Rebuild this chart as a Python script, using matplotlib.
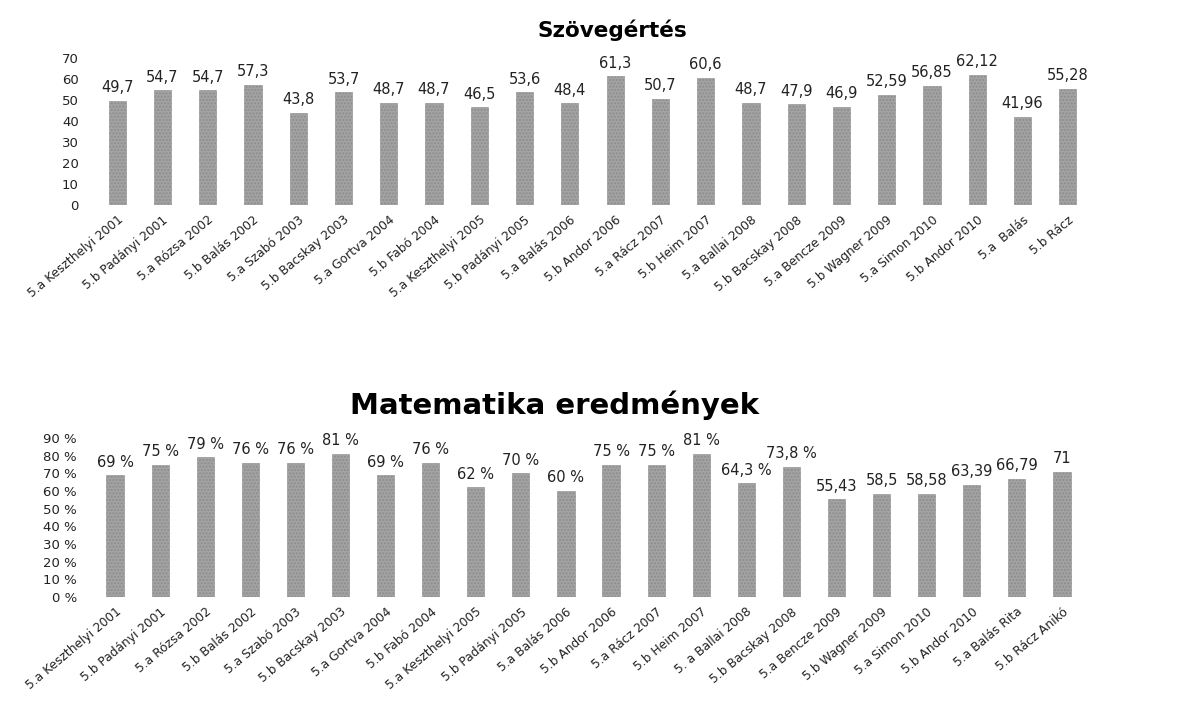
import matplotlib.pyplot as plt

plt.rcParams['font.family'] = ['DejaVu Sans']

# Szövegértés adatai
szoveg_cats = ["5.a Keszthelyi 2001", "5.b Padányi 2001", "5.a Rózsa 2002", "5.b Balás 2002",
               "5.a Szabó 2003", "5.b Bacskay 2003", "5.a Gortva 2004", "5.b Fabó 2004",
               "5.a Keszthelyi 2005", "5.b Padányi 2005", "5.a Balás 2006", "5.b Andor 2006",
               "5.a Rácz 2007", "5.b Heim 2007", "5.a Ballai 2008", "5.b Bacskay 2008",
               "5.a Bencze 2009", "5.b Wagner 2009", "5.a Simon 2010", "5.b Andor 2010",
               "5.a  Balás", "5.b Rácz"]
szoveg_vals = [49.7, 54.7, 54.7, 57.3, 43.8, 53.7, 48.7, 48.7, 46.5, 53.6, 48.4, 61.3,
               50.7, 60.6, 48.7, 47.9, 46.9, 52.59, 56.85, 62.12, 41.96, 55.28]
szoveg_labels = ["49,7", "54,7", "54,7", "57,3", "43,8", "53,7", "48,7", "48,7", "46,5",
                 "53,6", "48,4", "61,3", "50,7", "60,6", "48,7", "47,9", "46,9", "52,59",
                 "56,85", "62,12", "41,96", "55,28"]
szoveg_ticks = [0, 10, 20, 30, 40, 50, 60, 70]

# Matematika adatai
mat_cats = ["5.a Keszthelyi 2001", "5.b Padányi 2001", "5.a Rózsa 2002", "5.b Balás 2002",
            "5.a Szabó 2003", "5.b Bacskay 2003", "5.a Gortva 2004", "5.b Fabó 2004",
            "5.a Keszthelyi 2005", "5.b Padányi 2005", "5.a Balás 2006", "5.b Andor 2006",
            "5.a Rácz 2007", "5.b Heim 2007", "5. a Ballai 2008", "5.b Bacskay 2008",
            "5.a Bencze 2009", "5.b Wagner 2009", "5.a Simon 2010", "5.b Andor 2010",
            "5.a Balás Rita", "5.b Rácz Anikó"]
mat_vals = [69, 75, 79, 76, 76, 81, 69, 76, 62, 70, 60, 75, 75, 81, 64.3, 73.8,
            55.43, 58.5, 58.58, 63.39, 66.79, 71]
mat_labels = ["69 %", "75 %", "79 %", "76 %", "76 %", "81 %", "69 %", "76 %", "62 %",
              "70 %", "60 %", "75 %", "75 %", "81 %", "64,3 %", "73,8 %", "55,43",
              "58,5", "58,58", "63,39", "66,79", "71"]
mat_ticks = [0, 10, 20, 30, 40, 50, 60, 70, 80, 90]
mat_ticklabels = ["0 %", "10 %", "20 %", "30 %", "40 %", "50 %", "60 %", "70 %", "80 %", "90 %"]

bar_color = '#a3a3a3'

fig = plt.figure(figsize=(11.86, 7.02), dpi=100)


def draw(ax, cats, vals, labels, ticks, ticklabels):
    x = list(range(len(cats)))
    ax.bar(x, vals, width=0.38, color=bar_color, edgecolor='#8c8c8c', linewidth=0.4,
           hatch='.....')
    for xi, v, lab in zip(x, vals, labels):
        ax.annotate(lab, (xi, v), xytext=(0, 4), textcoords='offset points',
                    ha='center', va='bottom', fontsize=10.5, color='#222222')
    ax.set_xlim(-0.6, len(cats) - 0.4)
    ax.set_ylim(0, ticks[-1])
    ax.set_yticks(ticks)
    ax.set_yticklabels(ticklabels)
    ax.set_xticks(x)
    ax.set_xticklabels(cats, rotation=40, ha='right', rotation_mode='anchor')
    ax.tick_params(axis='both', length=0, labelsize=9.5, colors='#222222')
    ax.tick_params(axis='x', labelsize=8.8, pad=6)
    ax.tick_params(axis='y', pad=8)
    for s in ax.spines.values():
        s.set_visible(False)


ax1 = fig.add_axes([90 / 1186, 1 - 205 / 702, 1005 / 1186, 147 / 702])
draw(ax1, szoveg_cats, szoveg_vals, szoveg_labels, szoveg_ticks, [str(t) for t in szoveg_ticks])
fig.text(612 / 1186, 1 - 30 / 702, "Szövegértés", ha='center', va='center',
         fontsize=15.5, fontweight='bold')

ax2 = fig.add_axes([88 / 1186, 1 - 597 / 702, 1001 / 1186, 159 / 702])
draw(ax2, mat_cats, mat_vals, mat_labels, mat_ticks, mat_ticklabels)
fig.text(555 / 1186, 1 - 405 / 702, "Matematika eredmények", ha='center', va='center',
         fontsize=21, fontweight='bold')

plt.savefig('out.png', dpi=100)
